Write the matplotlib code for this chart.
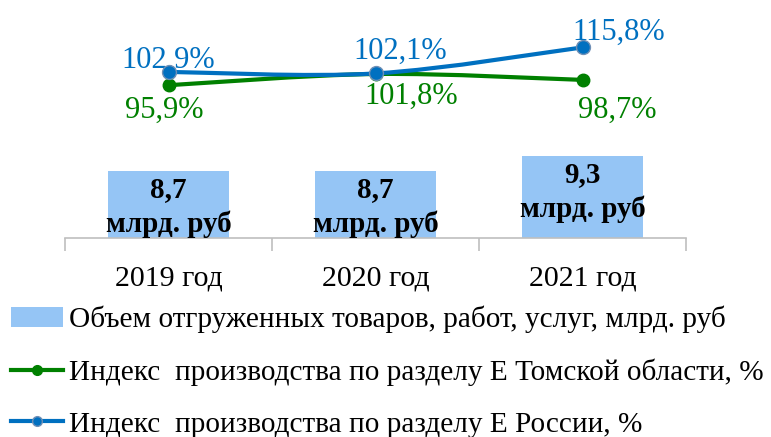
import matplotlib.pyplot as plt
import numpy as np
from matplotlib.path import Path
from matplotlib.patches import PathPatch
from matplotlib.lines import Line2D
from matplotlib.patches import Patch

years = ['2019 год', '2020 год', '2021 год']
volume = [8.7, 8.7, 9.3]
volume_labels = ['8,7', '8,7', '9,3']
tomsk_index = [95.9, 101.8, 98.7]
russia_index = [102.9, 102.1, 115.8]
tomsk_labels = ['95,9%', '101,8%', '98,7%']
russia_labels = ['102,9%', '102,1%', '115,8%']

bar_name = 'Объем отгруженных товаров, работ, услуг, млрд. руб'
tomsk_name = 'Индекс  производства по разделу Е Томской области, %'
russia_name = 'Индекс  производства по разделу Е России, %'

BAR_C = '#95C5F5'
GREEN = '#008000'
BLUE = '#0070C0'
GREY = '#BFBFBF'

plt.rcParams['font.family'] = ['Liberation Serif', 'DejaVu Serif']


def smooth_path(xs, ys):
    # bezier segments through every point (Excel-like smoothed line)
    pts = np.column_stack([xs, ys]).astype(float)
    n = len(pts)
    verts = [pts[0]]
    codes = [Path.MOVETO]
    for i in range(n - 1):
        p0 = pts[max(i - 1, 0)]
        p1 = pts[i]
        p2 = pts[i + 1]
        p3 = pts[min(i + 2, n - 1)]
        c1 = p1 + (p2 - p0) / 6
        c2 = p2 - (p3 - p1) / 6
        verts += [c1, c2, p2]
        codes += [Path.CURVE4] * 3
    return Path(verts, codes)


fig = plt.figure(figsize=(7.71, 4.37), dpi=100)
W, H = 771, 437
ax_left, ax_right = 65, 686
ax_top, ax_bottom = 40, 238
ax = fig.add_axes([ax_left / W, 1 - ax_bottom / H, (ax_right - ax_left) / W, (ax_bottom - ax_top) / H])
x = np.arange(len(years))

ax.bar(x, volume, width=0.58, color=BAR_C, zorder=1)
ax.set_xlim(-0.5, 2.5)
ax.set_ylim(6, 6 + (ax_bottom - ax_top) / 24.8)
for xi, v, lab in zip(x, volume, volume_labels):
    ax.text(xi, v - 0.2, lab + '\nмлрд. руб', ha='center', va='top', fontsize=21,
            fontweight='bold', linespacing=1.35, zorder=3)

for s in ['top', 'right', 'left']:
    ax.spines[s].set_visible(False)
ax.spines['bottom'].set_color(GREY)
ax.spines['bottom'].set_linewidth(1.2)
ax.set_yticks([])
ax.set_xticks(x)
ax.set_xticklabels(years, fontsize=21.5)
ax.set_xticks([-0.5, 0.5, 1.5, 2.5], minor=True)
ax.tick_params(axis='x', which='major', length=0, pad=19.5)
ax.tick_params(axis='x', which='minor', length=9, width=1.2, color=GREY)

ax2 = ax.twinx()
ax2.set_ylim(101.8 - (ax_bottom - 74) / 1.9, 101.8 + (74 - ax_top) / 1.9)
ax2.axis('off')
for vals, col in [(tomsk_index, GREEN), (russia_index, BLUE)]:
    ax2.add_patch(PathPatch(smooth_path(x, vals), fill=False, edgecolor=col, lw=3, zorder=2))
ax2.plot(x, tomsk_index, 'o', color=GREEN, ms=9, zorder=3)
ax2.plot(x, russia_index, 'o', color=BLUE, mec='#6F8FB5', mew=1, ms=10, zorder=4)

russia_off = [(0, 8), (18, 16), (26, 11)]
for xi, v, lab, off in zip(x, russia_index, russia_labels, russia_off):
    ax2.annotate(lab, (xi, v), xytext=off, textcoords='offset points', ha='center',
                 va='center', fontsize=22, color=BLUE)
tomsk_off = [(-3, -18), (26, -16), (25, -22)]
for xi, v, lab, off in zip(x, tomsk_index, tomsk_labels, tomsk_off):
    ax2.annotate(lab, (xi, v), xytext=off, textcoords='offset points', ha='center',
                 va='center', fontsize=22, color=GREEN)

handles = [
    Patch(facecolor=BAR_C, edgecolor='none'),
    Line2D([], [], color=GREEN, lw=3, marker='o', ms=7),
    Line2D([], [], color=BLUE, lw=3, marker='o', ms=7, mec='#6F8FB5'),
]
fig.legend(handles, [bar_name, tomsk_name, russia_name], loc='upper left',
           bbox_to_anchor=(2 / W, 1 - 297 / H), frameon=False, fontsize=21.1,
           handlelength=1.78, handletextpad=0.2, labelspacing=0.86,
           borderaxespad=0, borderpad=0.3)

fig.savefig('out.png', dpi=100)
